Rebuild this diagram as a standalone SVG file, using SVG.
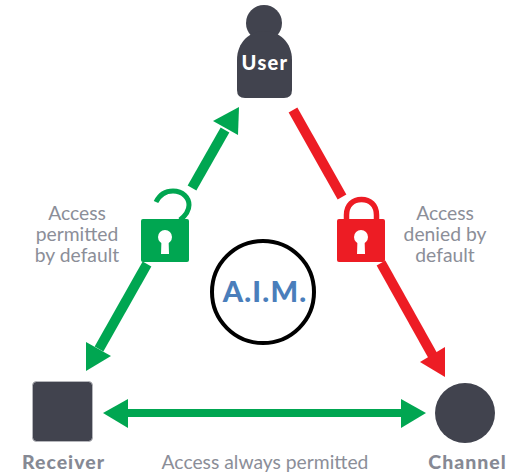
<svg xmlns="http://www.w3.org/2000/svg" width="508" height="476" viewBox="0 0 508 476">
<style>
text{font-family:Lato,"Noto Sans",sans-serif}
.lbl{font-size:19.300px;fill:#8b8e98;text-anchor:middle}
.nm{font-size:19.500px;font-weight:900;fill:#868994;text-anchor:middle;letter-spacing:1px}
.dark{fill:#41434e}
.g{fill:#00a651}.r{fill:#ed1c24}
.gs{stroke:#00a651;fill:none}.rs{stroke:#ed1c24;fill:none}
</style>
<rect width="508" height="476" fill="#fff"/>
<g id="connectors">
<g stroke-width="10">
<path class="gs" d="M192 188L225 130"/>
<path class="gs" d="M147 264L99 349"/>
<path class="rs" d="M293 110L342 197"/>
<path class="rs" d="M381 263L433 356"/>
</g>
<path class="gs" stroke-width="8" d="M125 413H404"/>
<path class="g" d="M239 107L238 135L213 121Z"/>
<path class="g" d="M86 371L86 342L111 356Z"/>
<path class="r" d="M445 377L445 347L420 362Z"/>
<path class="g" d="M103 413L128 399V428Z"/>
<path class="g" d="M426 413L401 399V428Z"/>
</g>
<g id="user">
<circle class="dark" cx="264" cy="23" r="18"/>
<path class="dark" d="M237 60C237 42 250 31 264 31C279 31 292 42 292 60V90Q292 98 284 98H245Q237 98 237 90Z"/>
<text x="265" y="70" font-size="20" font-weight="900" fill="#fff" text-anchor="middle" letter-spacing="1.300">User</text>
</g>
<g id="receiver">
<rect class="dark" x="32.500" y="381.500" width="60" height="60" rx="4" stroke="#b5b6bb" stroke-width="1"/>
<text class="nm" x="63.500" y="469">Receiver</text>
</g>
<g id="channel">
<circle class="dark" cx="465" cy="413" r="30"/>
<text class="nm" x="467.500" y="469">Channel</text>
</g>
<g id="aim">
<circle cx="263" cy="292" r="51" fill="#fff" stroke="#000" stroke-width="4"/>
<text x="265" y="302" font-size="29" font-weight="900" fill="#4a7ebb" text-anchor="middle" letter-spacing="1.200">A.I.M.</text>
</g>
<g id="lock-open">
<path class="gs" stroke-width="5" d="M156 202C160 194 166 191 173 191C183 191 189 198 189 205C189 211 185 216 180 220"/>
<rect class="g" x="141" y="219" width="48" height="43" rx="2"/>
<circle cx="165" cy="237" r="7" fill="#fff"/>
<path fill="#fff" d="M161.500 238H168.500L169 254H161Z"/>
</g>
<g id="lock-closed">
<path class="rs" stroke-width="5.500" d="M346.500 220V215C346.500 205 353 199.500 361.500 199.500C370 199.500 376.500 205 376.500 215V220"/>
<rect class="r" x="337" y="219" width="48" height="43" rx="2"/>
<circle cx="361" cy="237" r="7" fill="#fff"/>
<path fill="#fff" d="M357.500 238H364.500L365 254H357Z"/>
</g>
<g id="labels">
<text class="lbl"><tspan x="77" y="220">Access</tspan><tspan x="77" y="241">permitted</tspan><tspan x="77" y="262">by default</tspan></text>
<text class="lbl"><tspan x="445" y="219.500">Access</tspan><tspan x="445" y="240.500">denied by</tspan><tspan x="445" y="261.500">default</tspan></text>
<text class="lbl" x="265" y="469">Access always permitted</text>
</g>
</svg>
